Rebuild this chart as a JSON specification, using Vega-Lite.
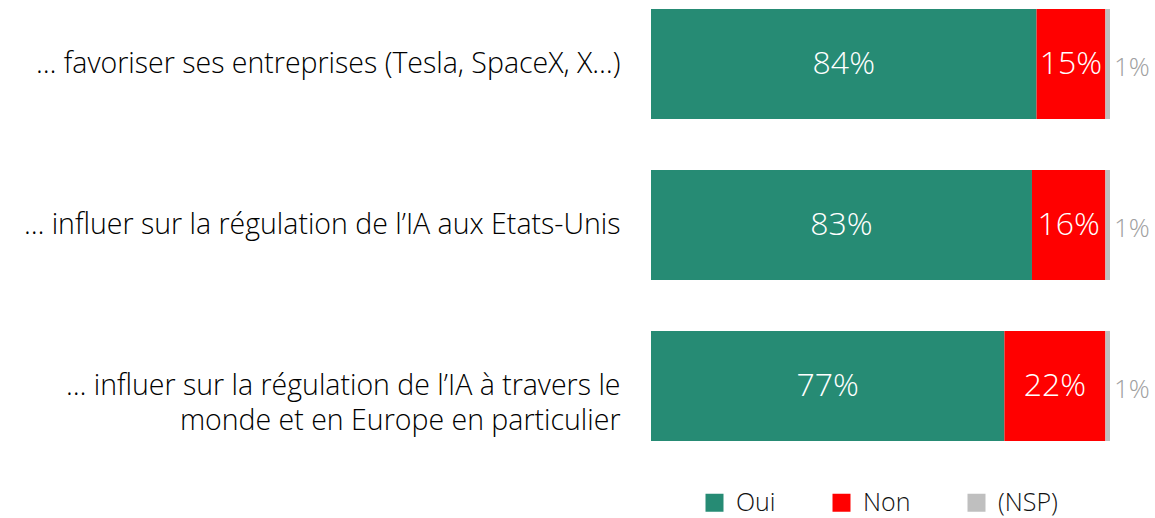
{
  "$schema": "https://vega.github.io/schema/vega-lite/v6.json",
  "width": 459,
  "height": 450,
  "autosize": "none",
  "padding": {"left": 651, "top": 0, "right": 45, "bottom": 68},
  "background": "white",
  "config": {"view": {"stroke": null}, "font": "Open Sans, sans-serif"},
  "data": {
    "values": [
      {"item": "… favoriser ses entreprises (Tesla, SpaceX, X…)", "answer": "Oui", "ord": 1, "value": 0.84},
      {"item": "… favoriser ses entreprises (Tesla, SpaceX, X…)", "answer": "Non", "ord": 2, "value": 0.15},
      {"item": "… favoriser ses entreprises (Tesla, SpaceX, X…)", "answer": "(NSP)", "ord": 3, "value": 0.01},
      {"item": "… influer sur la régulation de l’IA aux Etats-Unis", "answer": "Oui", "ord": 1, "value": 0.83},
      {"item": "… influer sur la régulation de l’IA aux Etats-Unis", "answer": "Non", "ord": 2, "value": 0.16},
      {"item": "… influer sur la régulation de l’IA aux Etats-Unis", "answer": "(NSP)", "ord": 3, "value": 0.01},
      {"item": "… influer sur la régulation de l’IA à travers le|monde et en Europe en particulier", "answer": "Oui", "ord": 1, "value": 0.77},
      {"item": "… influer sur la régulation de l’IA à travers le|monde et en Europe en particulier", "answer": "Non", "ord": 2, "value": 0.22},
      {"item": "… influer sur la régulation de l’IA à travers le|monde et en Europe en particulier", "answer": "(NSP)", "ord": 3, "value": 0.01}
    ]
  },
  "transform": [
    {"stack": "value", "groupby": ["item"], "sort": [{"field": "ord"}], "as": ["v0", "v1"]},
    {"calculate": "(datum.v0 + datum.v1) / 2", "as": "mid"}
  ],
  "encoding": {
    "y": {
      "field": "item",
      "type": "nominal",
      "sort": null,
      "scale": {"paddingInner": 0.317, "paddingOuter": 0.056},
      "axis": {
        "title": null,
        "domain": false,
        "ticks": false,
        "labelFont": "Open Sans",
        "labelFontWeight": 300,
        "labelFontSize": 28.5,
        "labelColor": "#000000",
        "labelPadding": 31,
        "labelLimit": 800,
        "labelLineHeight": 35,
        "labelExpr": "split(datum.label, '|')"
      }
    }
  },
  "layer": [
    {
      "mark": {"type": "bar"},
      "encoding": {
        "x": {"field": "v0", "type": "quantitative", "scale": {"domain": [0, 1], "nice": false}, "axis": null},
        "x2": {"field": "v1"},
        "color": {
          "field": "answer",
          "type": "nominal",
          "scale": {"domain": ["Oui", "Non", "(NSP)"], "range": ["#268B74", "#FF0000", "#BFBFBF"]},
          "legend": {
            "title": null,
            "orient": "none",
            "direction": "horizontal",
            "legendX": 51,
            "legendY": 490,
            "symbolType": "square",
            "symbolSize": 324,
            "symbolStrokeWidth": 0,
            "symbolOpacity": 1,
            "labelFont": "Open Sans",
            "labelFontWeight": 300,
            "labelFontSize": 25,
            "labelColor": "#111111",
            "labelOffset": 9,
            "columnPadding": 53
          }
        }
      }
    },
    {
      "transform": [{"filter": "datum.answer != '(NSP)'"}],
      "mark": {"type": "text", "color": "white", "fontSize": 32, "fontWeight": 300, "baseline": "middle", "font": "Open Sans"},
      "encoding": {
        "x": {"field": "mid", "type": "quantitative"},
        "text": {"field": "value", "type": "quantitative", "format": ".0%"}
      }
    },
    {
      "transform": [{"filter": "datum.answer == '(NSP)'"}],
      "mark": {"type": "text", "color": "#A0A0A0", "fontSize": 26, "align": "left", "dx": 4, "dy": 4, "baseline": "middle", "fontWeight": 300, "font": "Open Sans"},
      "encoding": {
        "x": {"field": "v1", "type": "quantitative"},
        "text": {"field": "value", "type": "quantitative", "format": ".0%"}
      }
    }
  ]
}
